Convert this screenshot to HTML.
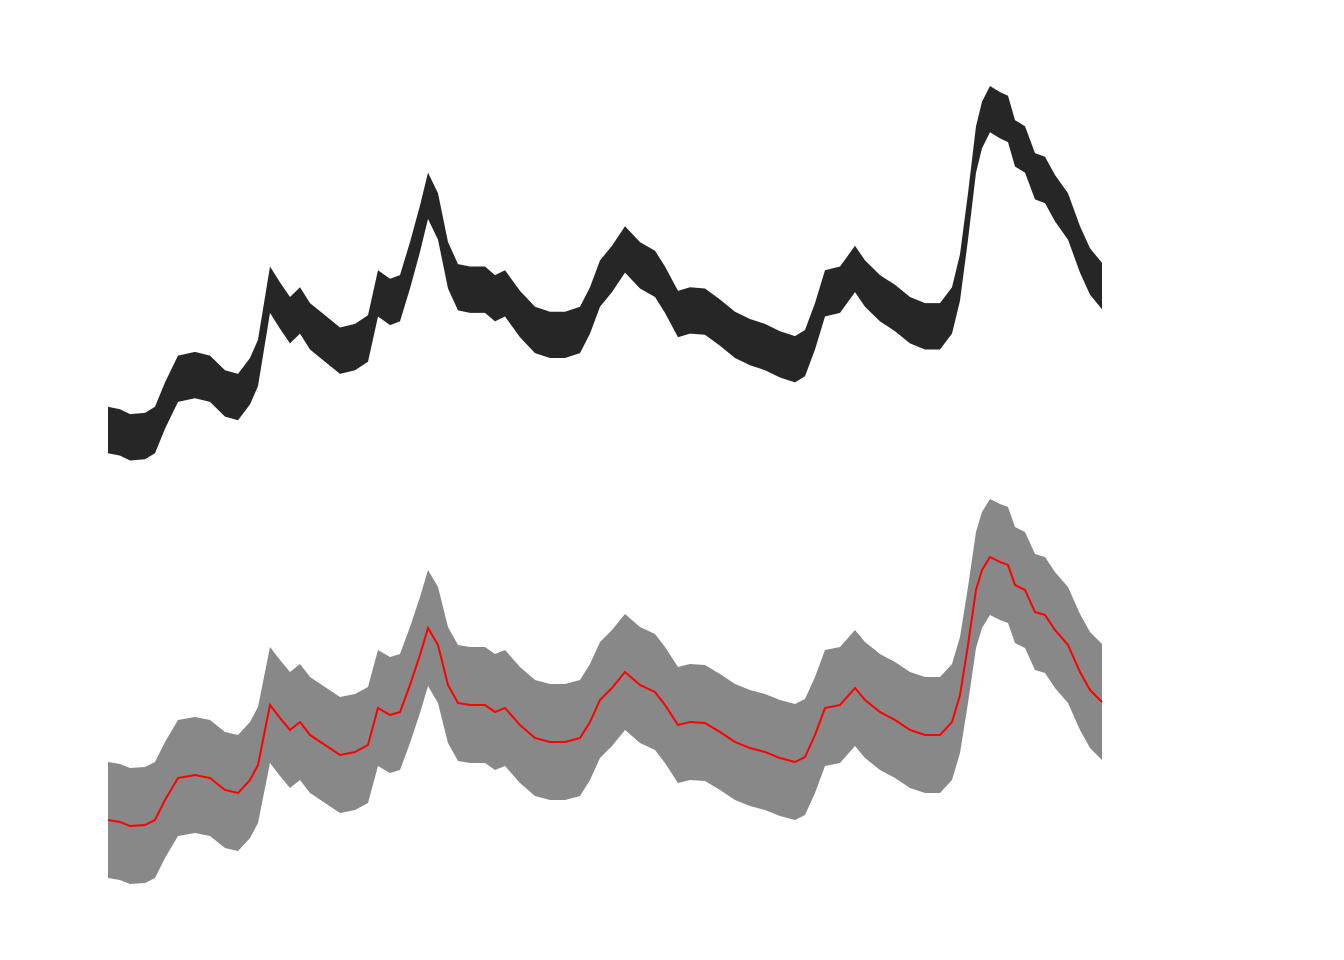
<!DOCTYPE html>
<html><head><meta charset="utf-8"><style>
html,body{margin:0;padding:0;background:#fff;width:1344px;height:960px;overflow:hidden}
</style></head><body>
<svg id="chart" width="1344" height="960" xmlns="http://www.w3.org/2000/svg">
<g id="topPanel"></g>
<g id="bottomPanel"></g>
</svg>
<script>
const times = [0,12,22,37,47,57,70,87,102,117,130,142,150,155,162,172,182,192,202,217,232,247,260,270,282,292,302,312,320,330,340,350,362,377,387,397,412,427,442,457,472,482,492,504,517,532,547,557,570,582,597,612,627,642,657,672,687,697,707,717,732,747,757,772,787,802,817,832,844,852,860,868,874,882,892,900,907,917,927,937,947,960,972,982,994];
const values = [0,-0.2,-0.6,-0.5,0,2.0,4.2,4.5,4.2,3.0,2.7,4.0,5.5,8.0,11.5,10.2,9.0,9.8,8.5,7.5,6.5,6.8,7.5,11.2,10.5,10.8,13.5,16.5,19.2,17.5,13.5,11.7,11.5,11.5,10.8,11.2,9.5,8.2,7.8,7.8,8.2,9.8,12.0,13.2,14.8,13.5,12.8,11.5,9.5,9.8,9.7,8.8,7.8,7.2,6.8,6.2,5.8,6.3,8.5,11.2,11.5,13.2,12.0,10.8,10.0,9.0,8.5,8.5,9.8,12.5,17.5,23.0,25.0,26.3,25.8,25.5,23.5,23.0,20.8,20.5,19.0,17.5,14.8,13.0,11.8];
const topHalf = 1.9;
const bottomHalf = 5.8;
const xScale = t => 108 + t;
const yTop = v => 430 - v * 12.2;
const yBot = v => 820 - v * 10;
const NS = 'http://www.w3.org/2000/svg';
function band(yf, half){
  const up = times.map((t,i)=>xScale(t).toFixed(1)+','+yf(values[i]+half).toFixed(1));
  const dn = times.map((t,i)=>xScale(t).toFixed(1)+','+yf(values[i]-half).toFixed(1)).reverse();
  return 'M'+up.join('L')+'L'+dn.join('L')+'Z';
}
const gTop = document.getElementById('topPanel');
const gBot = document.getElementById('bottomPanel');
const p1 = document.createElementNS(NS,'path');
p1.setAttribute('d', band(yTop, topHalf));
p1.setAttribute('fill', '#262626');


gTop.appendChild(p1);
const p2 = document.createElementNS(NS,'path');
p2.setAttribute('d', band(yBot, bottomHalf));
p2.setAttribute('fill', '#888888');


gBot.appendChild(p2);
const ln = document.createElementNS(NS,'path');
ln.setAttribute('d', 'M'+times.map((t,i)=>xScale(t).toFixed(1)+','+yBot(values[i]).toFixed(1)).join('L'));
ln.setAttribute('fill', 'none');
ln.setAttribute('stroke', '#ff0000');
ln.setAttribute('stroke-width', '2');


gBot.appendChild(ln);
</script>
</body></html>
